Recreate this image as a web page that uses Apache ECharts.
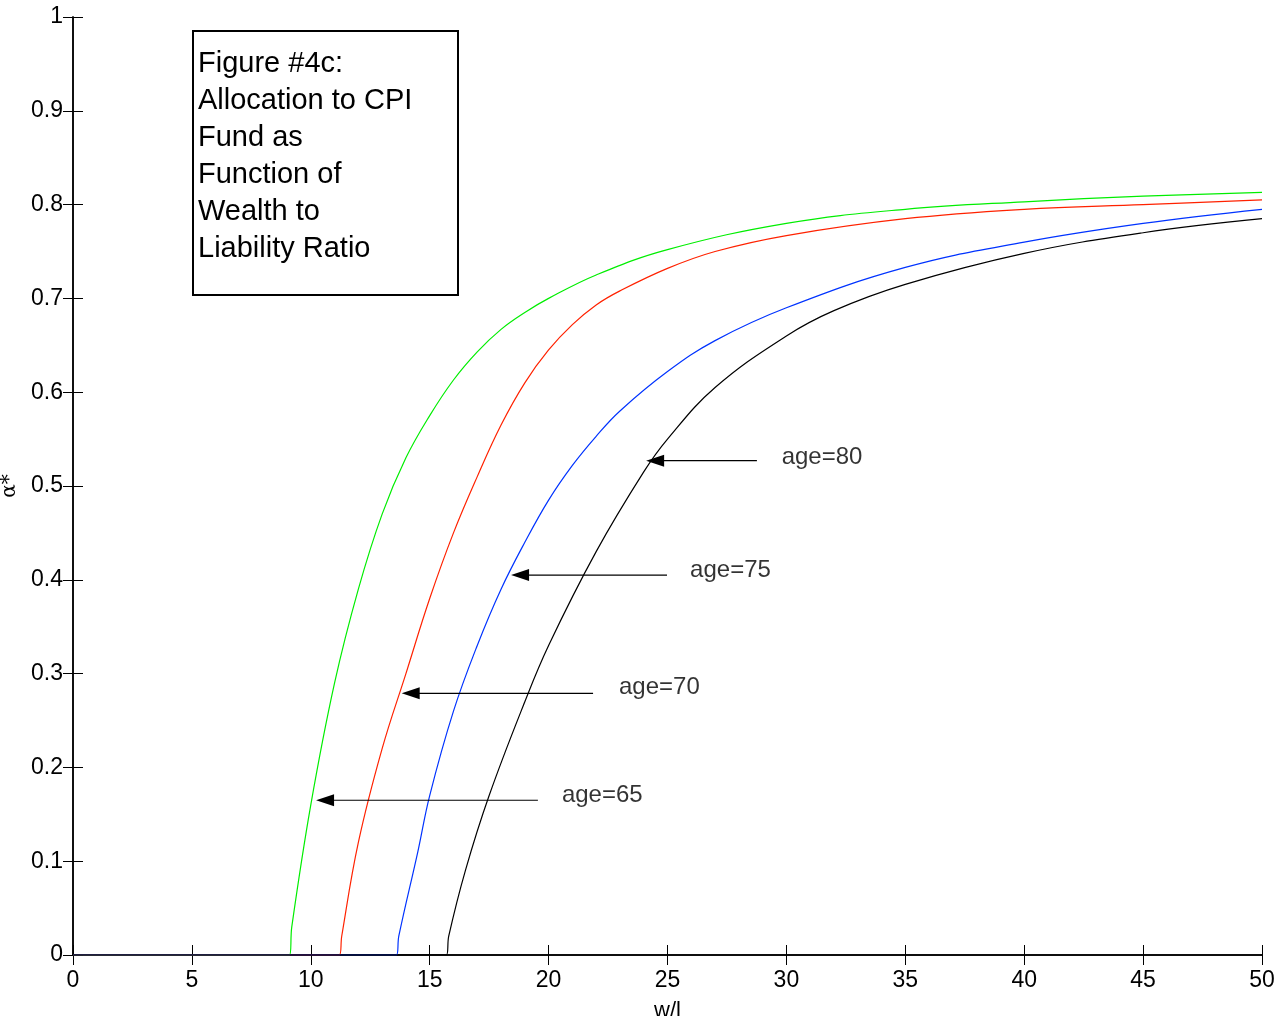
<!DOCTYPE html>
<html>
<head>
<meta charset="UTF-8">
<script src="https://cdn.jsdelivr.net/npm/echarts@6/dist/echarts.min.js"></script>
<style>
  html, body { margin: 0; padding: 0; background: #fff; }
  #chart { width: 1274px; height: 1016px; }
</style>
</head>
<body>
<div id="chart"></div>
<script>
// curves: [w/l, alpha]
var green = [[0,0],[9.1,0],[9.2,0.03],[10,0.16],[11,0.29],[12,0.39],[13,0.47],[14,0.53],[15,0.575],[16,0.613],[17,0.643],[18,0.667],[19,0.685],[20,0.70],[22,0.725],[25,0.752],[30,0.78],[35,0.795],[40,0.803],[45,0.809],[50,0.813]];
var red = [[0,0],[11.2,0],[11.3,0.02],[12,0.12],[13,0.22],[14,0.30],[15,0.38],[16,0.45],[17,0.51],[18,0.565],[19,0.61],[20,0.645],[21,0.672],[22,0.693],[23,0.708],[25,0.732],[27,0.75],[30,0.767],[35,0.785],[40,0.795],[45,0.80],[50,0.805]];
var blue = [[0,0],[13.6,0],[13.7,0.02],[14.5,0.11],[15,0.17],[16,0.26],[17,0.33],[18,0.39],[19,0.44],[20,0.485],[21,0.522],[22,0.553],[23,0.58],[25,0.622],[27,0.655],[30,0.69],[35,0.733],[40,0.76],[45,0.78],[50,0.795]];
var black = [[0,0],[15.7,0],[15.8,0.02],[16.5,0.09],[17.5,0.17],[19,0.27],[20,0.33],[22,0.43],[24,0.515],[25,0.55],[27,0.605],[30,0.66],[32,0.687],[35,0.715],[40,0.748],[45,0.77],[50,0.785]];

// arrows: [tailX, headX, y], labels: [x, y, text]
var arrows = [[19.55,10.6,0.165],[21.87,14.2,0.279],[24.98,18.8,0.405],[28.76,24.48,0.527]];
var labels = [[20.56,0.17,'age=65'],[22.96,0.285,'age=70'],[25.95,0.41,'age=75'],[29.8,0.531,'age=80']];

var font = 'Liberation Sans';
var chart = echarts.init(document.getElementById('chart'));

function curve(d, c) {
  return { type: 'line', data: d, smooth: 0.4, symbol: 'none',
    lineStyle: { color: c, width: 1.2 }, silent: true, z: 3 };
}

var series = [curve(green, '#00ee00'), curve(red, '#ff2200'), curve(blue, '#0033ff'), curve(black, '#000')];
arrows.forEach(function (a) {
  series.push({
    type: 'line', showSymbol: true,
    data: [
      { value: [a[0], a[2]], symbol: 'none' },
      { value: [a[1], a[2]], symbol: 'triangle', symbolSize: [12, 18], symbolRotate: 90 }
    ],
    itemStyle: { color: '#000' }, lineStyle: { color: '#000', width: 1.2 }, silent: true, z: 4
  });
});
series.push({
  type: 'scatter', symbolSize: 0, data: labels.map(function (l) { return { value: [l[0], l[1]], name: l[2] }; }),
  label: { show: true, position: 'right', distance: 0, formatter: '{b}', color: '#000', fontSize: 24, fontFamily: font },
  silent: true
});

var axisCommon = {
  min: 0, axisLine: { lineStyle: { color: '#000', width: 1.5 } },
  axisTick: { inside: true, length: 10, lineStyle: { color: '#000' } },
  splitLine: { show: false }
};

chart.setOption({
  animation: false,
  grid: { left: 73, right: 12, top: 17, bottom: 61, containLabel: false, outerBoundsMode: 'none' },
  xAxis: [
    Object.assign({}, axisCommon, { type: 'value', max: 50, interval: 5, position: 'bottom',
      name: 'w/l', nameLocation: 'middle', nameGap: 45, nameTextStyle: { fontSize: 22, fontFamily: font, color: '#000' },
      axisLabel: { fontSize: 23, fontFamily: font, color: '#000', margin: 14 } }),
    Object.assign({}, axisCommon, { type: 'value', max: 50, interval: 5, position: 'top', axisLabel: { show: false } })
  ],
  yAxis: [
    Object.assign({}, axisCommon, { type: 'value', max: 1, interval: 0.1, position: 'left',
      name: 'α*', nameLocation: 'middle', nameGap: 50, nameTextStyle: { fontSize: 20, fontFamily: 'DejaVu Serif', color: '#000' },
      axisLabel: { fontSize: 23, fontFamily: font, color: '#000', margin: 10,
        formatter: function (v) { return +v.toFixed(1) + ''; } } }),
    Object.assign({}, axisCommon, { type: 'value', max: 1, interval: 0.1, position: 'right', axisLabel: { show: false } })
  ],
  graphic: [{
    type: 'group', left: 192, top: 30, children: [
      { type: 'rect', shape: { x: 0, y: 0, width: 265, height: 264 }, style: { fill: '#fff', stroke: '#000', lineWidth: 2 } },
      { type: 'text', left: 5, top: 14, style: {
        text: 'Figure #4c:\nAllocation to CPI\nFund as\nFunction of\nWealth to\nLiability Ratio',
        font: '29px "Liberation Sans"', lineHeight: 37, fill: '#000' } }
    ]
  }],
  series: series
});
</script>
</body>
</html>
